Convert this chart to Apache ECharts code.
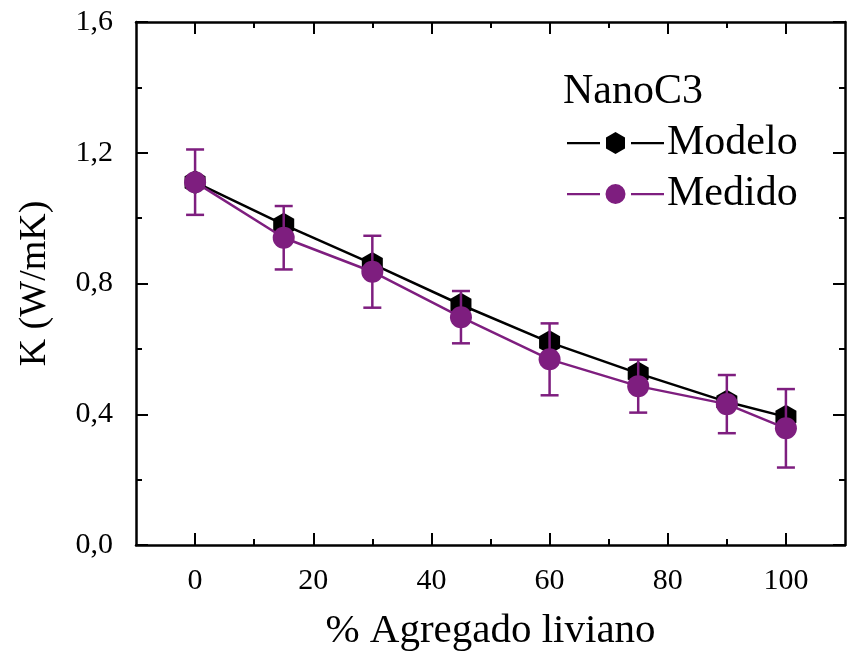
<!DOCTYPE html>
<html>
<head>
<meta charset="utf-8">
<script src="https://cdn.jsdelivr.net/npm/echarts@6/dist/echarts.min.js"></script>
<style>
  html, body { margin: 0; padding: 0; background: #fff; }
  #chart { width: 848px; height: 660px; }
</style>
</head>
<body>
<div id="chart"></div>
<script>
const agregado = [0, 15, 30, 45, 60, 75, 90, 100];
const modelo = [1.11, 0.98, 0.86, 0.735, 0.62, 0.525, 0.438, 0.392];
const medido = [1.11, 0.94, 0.836, 0.697, 0.568, 0.486, 0.431, 0.357];
const medidoErr = [0.10, 0.097, 0.11, 0.08, 0.11, 0.081, 0.089, 0.12];

const xMajor = [0, 20, 40, 60, 80, 100];
const xMinor = [10, 30, 50, 70, 90];

const purple = '#7e1e7f';
const serif = '"Liberation Serif", "Times New Roman", serif';

// legend icons: line - gap - marker - gap - line (Origin style)
const legendLines = 'M0,10 h33 v2.2 h-33 Z M64,10 h33 v2.2 h-33 Z ';
const hexIcon = 'path://' + legendLines + 'M48.5,0 L58,5.5 L58,16.5 L48.5,22 L39,16.5 L39,5.5 Z';
const dotIcon = 'path://' + legendLines + 'M38.5,11 A10,10 0 1,0 58.5,11 A10,10 0 1,0 38.5,11 Z';

const chart = echarts.init(document.getElementById('chart'), null, { renderer: 'canvas' });

const frame = { show: true, onZero: false, lineStyle: { color: '#000', width: 2.5 } };
const noLine = { show: false, onZero: false };
const fmtY = v => v.toFixed(1).replace('.', ',');

function xAx(position, ticks, len, labels) {
    return {
        type: 'value', position, min: -10, max: 110, interval: 10,
        axisLine: labels !== null ? frame : noLine,
        axisTick: { inside: true, length: len, customValues: ticks, lineStyle: { color: '#000', width: 2 } },
        axisLabel: labels ? {
            customValues: xMajor, margin: 21, color: '#000',
            fontFamily: serif, fontSize: 30
        } : { show: false },
        splitLine: { show: false }
    };
}

const errData = agregado.map((x, i) => [x, medido[i] - medidoErr[i], medido[i] + medidoErr[i]]);

chart.setOption({
    backgroundColor: '#fff',
    animation: false,
    grid: { left: 136, right: 3, top: 22, bottom: 115 },
    title: {
        text: 'NanoC3', left: 558, top: 66,
        textStyle: { fontFamily: serif, fontSize: 42, fontWeight: 'normal', color: '#000' }
    },
    legend: {
        orient: 'vertical', left: 562, top: 117,
        itemWidth: 97, itemHeight: 22, itemGap: 9,
        textStyle: { fontFamily: serif, fontSize: 42, color: '#000', padding: [0, 0, 0, -2] },
        itemStyle: { borderWidth: 0 },
        data: [
            { name: 'Modelo', icon: hexIcon },
            { name: 'Medido', icon: dotIcon }
        ]
    },
    xAxis: [
        Object.assign(xAx('bottom', xMinor, 6, true), {
            name: '% Agregado liviano', nameLocation: 'middle', nameGap: 66,
            nameTextStyle: { fontFamily: serif, fontSize: 41, color: '#000' }
        }),
        xAx('bottom', xMajor, 12, null),
        xAx('top', xMinor, 6, false),
        xAx('top', xMajor, 12, null)
    ],
    yAxis: [0, 1].map(i => ({
        type: 'value', position: i ? 'right' : 'left', min: 0, max: 1.6, interval: 0.4,
        axisLine: frame,
        axisTick: { inside: true, length: 12, lineStyle: { color: '#000', width: 2 } },
        minorTick: { show: true, splitNumber: 2, length: 6, lineStyle: { color: '#000', width: 2 } },
        axisLabel: i ? { show: false } : {
            formatter: fmtY, margin: 23, color: '#000', fontFamily: serif, fontSize: 30
        },
        splitLine: { show: false },
        minorSplitLine: { show: false },
        name: i ? '' : 'K (W/mK)', nameLocation: 'middle', nameGap: 82,
        nameTextStyle: { fontFamily: serif, fontSize: 38, color: '#000' }
    })),
    series: [
        {
            name: 'Modelo', type: 'line',
            data: agregado.map((x, i) => [x, modelo[i]]),
            symbol: 'path://M0,-1L0.866,-0.5L0.866,0.5L0,1L-0.866,0.5L-0.866,-0.5Z',
            symbolSize: [21, 24],
            itemStyle: { color: '#000' },
            lineStyle: { color: '#000', width: 2.5 },
            z: 2
        },
        {
            name: 'errMedido', type: 'custom',
            data: errData,
            encode: { x: 0, y: [1, 2] },
            renderItem(params, api) {
                const x = api.value(0);
                const lo = api.coord([x, api.value(1)]);
                const hi = api.coord([x, api.value(2)]);
                const w = 9;
                const style = { stroke: purple, lineWidth: 2.5, fill: null };
                return {
                    type: 'group',
                    children: [
                        { type: 'line', shape: { x1: lo[0], y1: lo[1], x2: hi[0], y2: hi[1] }, style },
                        { type: 'line', shape: { x1: lo[0] - w, y1: lo[1], x2: lo[0] + w, y2: lo[1] }, style },
                        { type: 'line', shape: { x1: hi[0] - w, y1: hi[1], x2: hi[0] + w, y2: hi[1] }, style }
                    ]
                };
            },
            z: 3
        },
        {
            name: 'Medido', type: 'line',
            data: agregado.map((x, i) => [x, medido[i]]),
            symbol: 'circle', symbolSize: 22,
            itemStyle: { color: purple },
            lineStyle: { color: purple, width: 2.5 },
            z: 4
        }
    ]
});
</script>
</body>
</html>
